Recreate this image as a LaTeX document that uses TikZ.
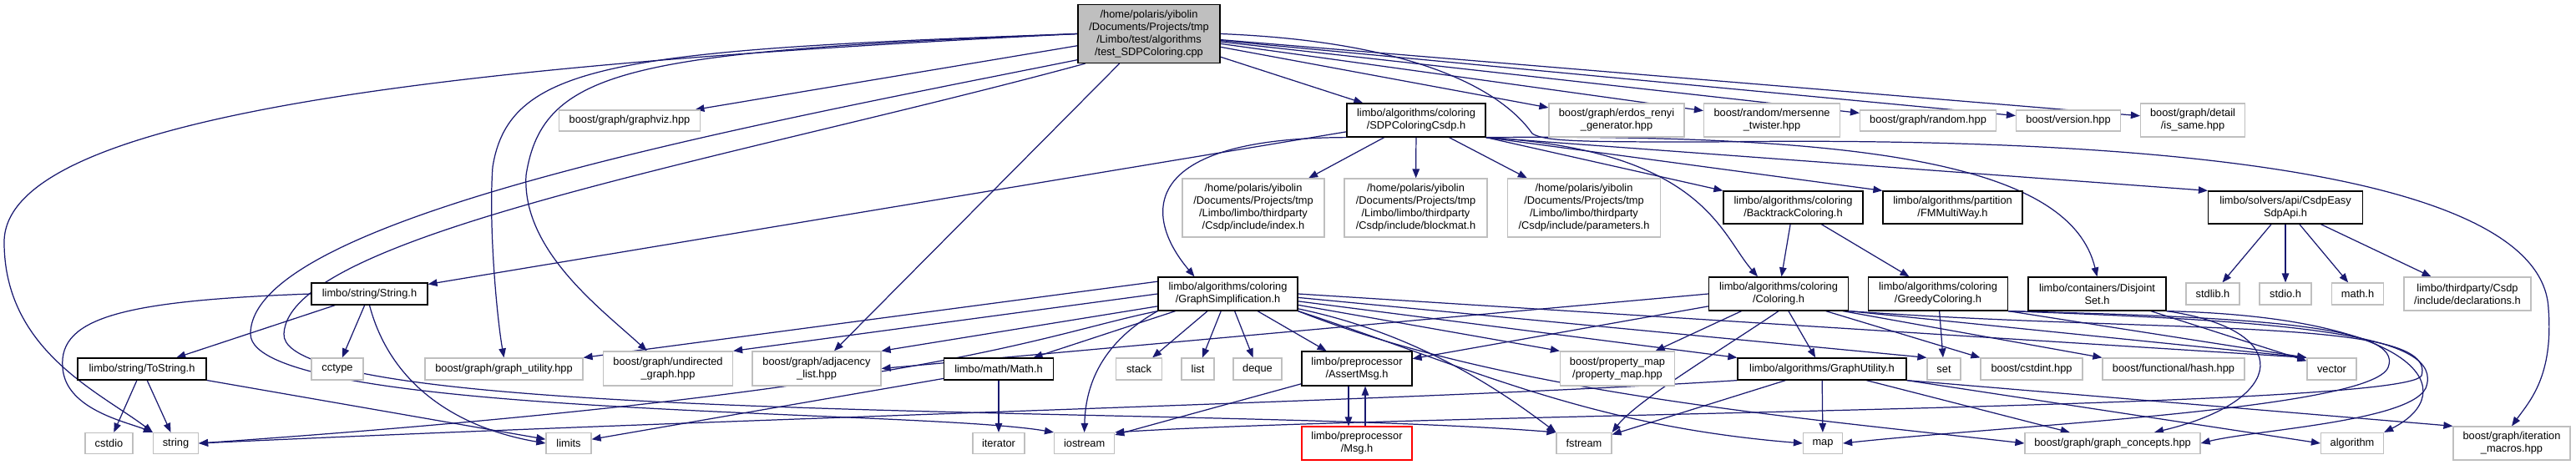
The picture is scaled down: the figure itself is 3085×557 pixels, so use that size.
\documentclass[tikz,border=0pt]{standalone}
\usepackage{fontspec}
\newfontfamily\doxfont{Liberation Sans}
\usetikzlibrary{arrows.meta, backgrounds}
\definecolor{edgeblue}{RGB}{25,25,112}
\definecolor{framegray}{RGB}{191,191,191}

\tikzset{
  hdr/.style={draw=framegray, line width=0.7pt, fill=white, align=center, inner sep=0pt,
    font=\doxfont\fontsize{7.3}{8.5}\selectfont},
  dochdr/.style={hdr, draw=black},
  sz/.style 2 args={minimum width=#1*0.02cm, minimum height=#2*0.02cm},
  dep/.style={draw=edgeblue, line width=0.7pt, -{Triangle[length=0.22cm,width=0.17cm]}}
}

\begin{document}
\begin{tikzpicture}[x=0.02cm, y=-0.02cm]
  \useasboundingbox (0,0) rectangle (3085,557);

  % Define the source file
  \node[dochdr, fill=framegray, sz={170}{70}] (main) at (1376,40.5) {/home/polaris/yibolin\\/Documents/Projects/tmp\\/Limbo/test/algorithms\\/test\_SDPColoring.cpp};

  % First row of headers
  \node[hdr, sz={169}{25}] (gviz) at (754,144.5) {boost/graph/graphviz.hpp};
  \node[dochdr, sz={166}{40}] (sdp) at (1696,144) {limbo/algorithms/coloring\\/SDPColoringCsdp.h};
  \node[hdr, sz={162}{40}] (erdos) at (1936,144) {boost/graph/erdos\_renyi\\\_generator.hpp};
  \node[hdr, sz={163}{40}] (mersenne) at (2122,144) {boost/random/mersenne\\\_twister.hpp};
  \node[hdr, sz={163}{25}] (random) at (2309,144.5) {boost/graph/random.hpp};
  \node[hdr, sz={125}{25}] (version) at (2477,144.5) {boost/version.hpp};
  \node[hdr, sz={125}{40}] (issame) at (2626,144) {boost/graph/detail\\/is\_same.hpp};

  % Second row
  \node[hdr, sz={170}{70}] (index) at (1501,249) {/home/polaris/yibolin\\/Documents/Projects/tmp\\/Limbo/limbo/thirdparty\\/Csdp/include/index.h};
  \node[hdr, sz={171}{70}] (blockmat) at (1695.5,249) {/home/polaris/yibolin\\/Documents/Projects/tmp\\/Limbo/limbo/thirdparty\\/Csdp/include/blockmat.h};
  \node[hdr, sz={183}{70}] (params) at (1897,249) {/home/polaris/yibolin\\/Documents/Projects/tmp\\/Limbo/limbo/thirdparty\\/Csdp/include/parameters.h};
  \node[dochdr, sz={167}{39}] (backtrack) at (2147.5,248.5) {limbo/algorithms/coloring\\/BacktrackColoring.h};
  \node[dochdr, sz={167}{39}] (fmmulti) at (2338.5,248.5) {limbo/algorithms/partition\\/FMMultiWay.h};
  \node[dochdr, sz={185}{39}] (csdpapi) at (2737,248.5) {limbo/solvers/api/CsdpEasy\\SdpApi.h};

  % Third row
  \node[dochdr, sz={139}{26}] (strh) at (442.5,352) {limbo/string/String.h};
  \node[dochdr, sz={167}{40}] (gsimp) at (1470.5,352) {limbo/algorithms/coloring\\/GraphSimplification.h};
  \node[dochdr, sz={167}{40}] (coloring) at (2130,352) {limbo/algorithms/coloring\\/Coloring.h};
  \node[dochdr, sz={167}{40}] (greedy) at (2321,352) {limbo/algorithms/coloring\\/GreedyColoring.h};
  \node[dochdr, sz={165}{40}] (disjoint) at (2511.5,352) {limbo/containers/Disjoint\\Set.h};
  \node[hdr, sz={64}{26}] (stdlib) at (2650,352) {stdlib.h};
  \node[hdr, sz={62}{26}] (stdio) at (2737,352) {stdio.h};
  \node[hdr, sz={62}{26}] (mathh) at (2823.5,352) {math.h};
  \node[hdr, sz={152}{40}] (decl) at (2955,352) {limbo/thirdparty/Csdp\\/include/declarations.h};

  % Fourth row
  \node[dochdr, sz={154}{26}] (tostr) at (170,442) {limbo/string/ToString.h};
  \node[hdr, sz={62}{26}] (cctype) at (404,442) {cctype};
  \node[hdr, sz={189}{26}] (gutil) at (603.5,442) {boost/graph/graph\_utility.hpp};
  \node[hdr, sz={155}{41}] (undir) at (800,441.5) {boost/graph/undirected\\\_graph.hpp};
  \node[hdr, sz={154}{41}] (adjl) at (978,441.5) {boost/graph/adjacency\\\_list.hpp};
  \node[dochdr, sz={131}{26}] (mathlib) at (1196,442) {limbo/math/Math.h};
  \node[hdr, sz={55}{26}] (stack) at (1364,442) {stack};
  \node[hdr, sz={39}{26}] (list) at (1434.5,442) {list};
  \node[hdr, sz={58}{26}] (deque) at (1506,442) {deque};
  \node[dochdr, sz={132}{41}] (assert) at (1625,441.5) {limbo/preprocessor\\/AssertMsg.h};
  \node[hdr, sz={137}{41}] (propmap) at (1937,441.5) {boost/property\_map\\/property\_map.hpp};
  \node[dochdr, sz={202}{26}] (gutilh) at (2182,442) {limbo/algorithms/GraphUtility.h};
  \node[hdr, sz={40}{26}] (set) at (2328,442) {set};
  \node[hdr, sz={122}{26}] (cstdint) at (2433,442) {boost/cstdint.hpp};
  \node[hdr, sz={170}{26}] (hash) at (2603,442) {boost/functional/hash.hpp};
  \node[hdr, sz={59}{26}] (vector) at (2792.5,442) {vector};

  % Bottom row
  \node[hdr, sz={57}{25}] (cstdio) at (130.5,531) {cstdio};
  \node[hdr, sz={54}{25}] (string) at (210.5,531) {string};
  \node[hdr, sz={54}{25}] (limits) at (681,531) {limits};
  \node[hdr, sz={62}{25}] (iterator) at (1196,531) {iterator};
  \node[hdr, sz={72}{25}] (iostream) at (1298.6,531) {iostream};
  \node[hdr, draw=red, sz={132}{40}] (msg) at (1625,531) {limbo/preprocessor\\/Msg.h};
  \node[hdr, sz={66}{25}] (fstream) at (1897,531) {fstream};
  \node[hdr, sz={47}{25}] (map) at (2183,531) {map};
  \node[hdr, sz={210}{25}] (gconc) at (2530,531) {boost/graph/graph\_concepts.hpp};
  \node[hdr, sz={75}{25}] (algorithm) at (2817,531) {algorithm};
  \node[hdr, sz={140}{40}] (itmacros) at (3008,531) {boost/graph/iteration\\\_macros.hpp};

  \begin{scope}[on background layer]
  % Includes of the source file
  \draw[dep] (main) -- (gviz);
  \draw[dep] (main) -- (sdp);
  \draw[dep] (main) -- (erdos);
  \draw[dep] (main) -- (mersenne);
  \draw[dep] (main) -- (random);
  \draw[dep] (main) -- (version);
  \draw[dep] (main) -- (issame);
  \draw[dep] (main) -- (adjl);
  \draw[dep] (main.west) .. controls (600,75) and (5,130) .. (5,290) .. controls (5,420) and (120,470) .. (string.north west);
  \draw[dep] (main.west) .. controls (740,60) and (610,75) .. (590,200) .. controls (585,270) and (595,380) .. (gutil.north);
  \draw[dep] (main.west) .. controls (760,62) and (650,80) .. (630,210) .. controls (625,300) and (720,370) .. (undir.140);
  \draw[dep] (main.200) .. controls (900,150) and (300,260) .. (300,400) .. controls (300,500) and (1100,490) .. (iostream.north west);
  \draw[dep] (main.205) .. controls (880,190) and (345,280) .. (340,400) .. controls (335,510) and (1450,485) .. (fstream.north west);
  \draw[dep] (main.east) .. controls (1700,50) and (1800,110) .. (1835,160) .. controls (1850,170) and (1900,170) .. (2050,170) .. controls (2650,162) and (3045,220) .. (3052,370) .. controls (3058,450) and (3030,480) .. (itmacros.north);

  % Includes of SDPColoringCsdp.h
  \draw[dep] (sdp) -- (strh);
  \draw[dep] (sdp.south west) .. controls (1360,165) and (1370,260) .. ([xshift=-0.8cm]gsimp.north);
  \draw[dep] (sdp) -- (index);
  \draw[dep] (sdp) -- (blockmat);
  \draw[dep] (sdp) -- (params);
  \draw[dep] (sdp.south east) .. controls (2040,180) and (2060,280) .. ([xshift=-0.5cm]coloring.north);
  \draw[dep] (sdp.south east) -- (backtrack.north west);
  \draw[dep] (sdp.south east) -- (fmmulti.north west);
  \draw[dep] (sdp.south east) -- (csdpapi.north west);
  \draw[dep] (sdp.south east) .. controls (2250,160) and (2480,200) .. (disjoint.north);
  \draw[dep] (backtrack) -- (coloring);
  \draw[dep] (backtrack) -- (greedy);

  % Includes of GraphSimplification.h
  \draw[dep] (gsimp.170) -- (gutil.north east);
  \draw[dep] (gsimp.180) -- (undir.north east);
  \draw[dep] (gsimp.190) -- (adjl.north east);
  \draw[dep] (gsimp.south west) .. controls (1250,400) and (1110,470) .. (string.east);
  \draw[dep] (gsimp) -- (mathlib);
  \draw[dep] (gsimp.south west) .. controls (1320,410) and (1300,460) .. (iostream.north);
  \draw[dep] (gsimp) -- (stack);
  \draw[dep] (gsimp) -- (list);
  \draw[dep] (gsimp) -- (deque);
  \draw[dep] (gsimp) -- (assert);
  \draw[dep] (gsimp.east) -- (vector.north west);
  \draw[dep] (gsimp.-3) -- (set.north west);
  \draw[dep] (gsimp.-6) -- (gutilh.north west);
  \draw[dep] (gsimp.-9) -- (propmap.north west);
  \draw[dep] (gsimp.-12) .. controls (1700,400) and (1800,470) .. (fstream.north west);
  \draw[dep] (gsimp.south east) .. controls (1760,440) and (1900,510) .. (map.west);
  \draw[dep] (gsimp.south east) .. controls (1800,470) and (2150,500) .. (gconc.west);

  % Includes of Coloring.h
  \draw[dep] (coloring.west) -- (adjl.east);
  \draw[dep] (coloring) -- (assert);
  \draw[dep] (coloring) -- (propmap);
  \draw[dep] (coloring) -- (gutilh);
  \draw[dep] (coloring.south) .. controls (2060,420) and (1960,480) .. (fstream.north east);
  \draw[dep] (coloring.-20) -- (cstdint.north west);
  \draw[dep] (coloring.-15) -- (hash.north west);
  \draw[dep] (coloring.south east) -- (vector.north west);
  \draw[dep] (coloring.south east) .. controls (2600,400) and (2920,380) .. (2900,450) .. controls (2880,490) and (1700,495) .. (iostream.north east);

  % Includes of GreedyColoring.h and DisjointSet.h
  \draw[dep] (greedy) -- (set);
  \draw[dep] (greedy.south east) -- (vector.north west);
  \draw[dep] (greedy.south east) .. controls (2700,380) and (2880,390) .. (2860,440) .. controls (2840,490) and (2400,510) .. (map.east);
  \draw[dep] (greedy.south east) .. controls (2750,385) and (2930,400) .. (2905,465) .. controls (2885,505) and (2700,515) .. (gconc.east);
  \draw[dep] (disjoint) -- (vector);
  \draw[dep] (disjoint.south east) .. controls (2750,395) and (2740,480) .. ([xshift=1cm]gconc.north);
  \draw[dep] (disjoint.south east) .. controls (2900,380) and (2950,470) .. (algorithm.north east);

  % Includes of GraphUtility.h
  \draw[dep] (gutilh) -- (fstream);
  \draw[dep] (gutilh) -- (map);
  \draw[dep] (gutilh) -- (gconc);
  \draw[dep] (gutilh.south east) -- (algorithm.west);
  \draw[dep] (gutilh.south east) -- (itmacros.north west);
  \draw[dep] (gutilh.south west) .. controls (1700,480) and (900,500) .. (string.east);

  % Preprocessor headers
  \draw[dep] ([xshift=-0.2cm]assert.south) -- ([xshift=-0.2cm]msg.north);
  \draw[dep] ([xshift=0.2cm]msg.north) -- ([xshift=0.2cm]assert.south);
  \draw[dep] (assert) -- (iostream);

  % Includes of the solver api
  \draw[dep] (csdpapi) -- (stdlib);
  \draw[dep] (csdpapi) -- (stdio);
  \draw[dep] (csdpapi) -- (mathh);
  \draw[dep] (csdpapi) -- (decl);

  % String and math headers
  \draw[dep] (strh) -- (tostr);
  \draw[dep] (strh) -- (cctype);
  \draw[dep] (strh.west) .. controls (150,360) and (70,380) .. (75,440) .. controls (78,490) and (150,505) .. (string.north west);
  \draw[dep] (strh.south) .. controls (470,470) and (560,515) .. (limits.west);
  \draw[dep] (tostr) -- (cstdio);
  \draw[dep] (tostr) -- (string);
  \draw[dep] (tostr) -- (limits);
  \draw[dep] (mathlib) -- (iterator);
  \draw[dep] (mathlib) -- (limits);
  \end{scope}
\end{tikzpicture}
\end{document}
